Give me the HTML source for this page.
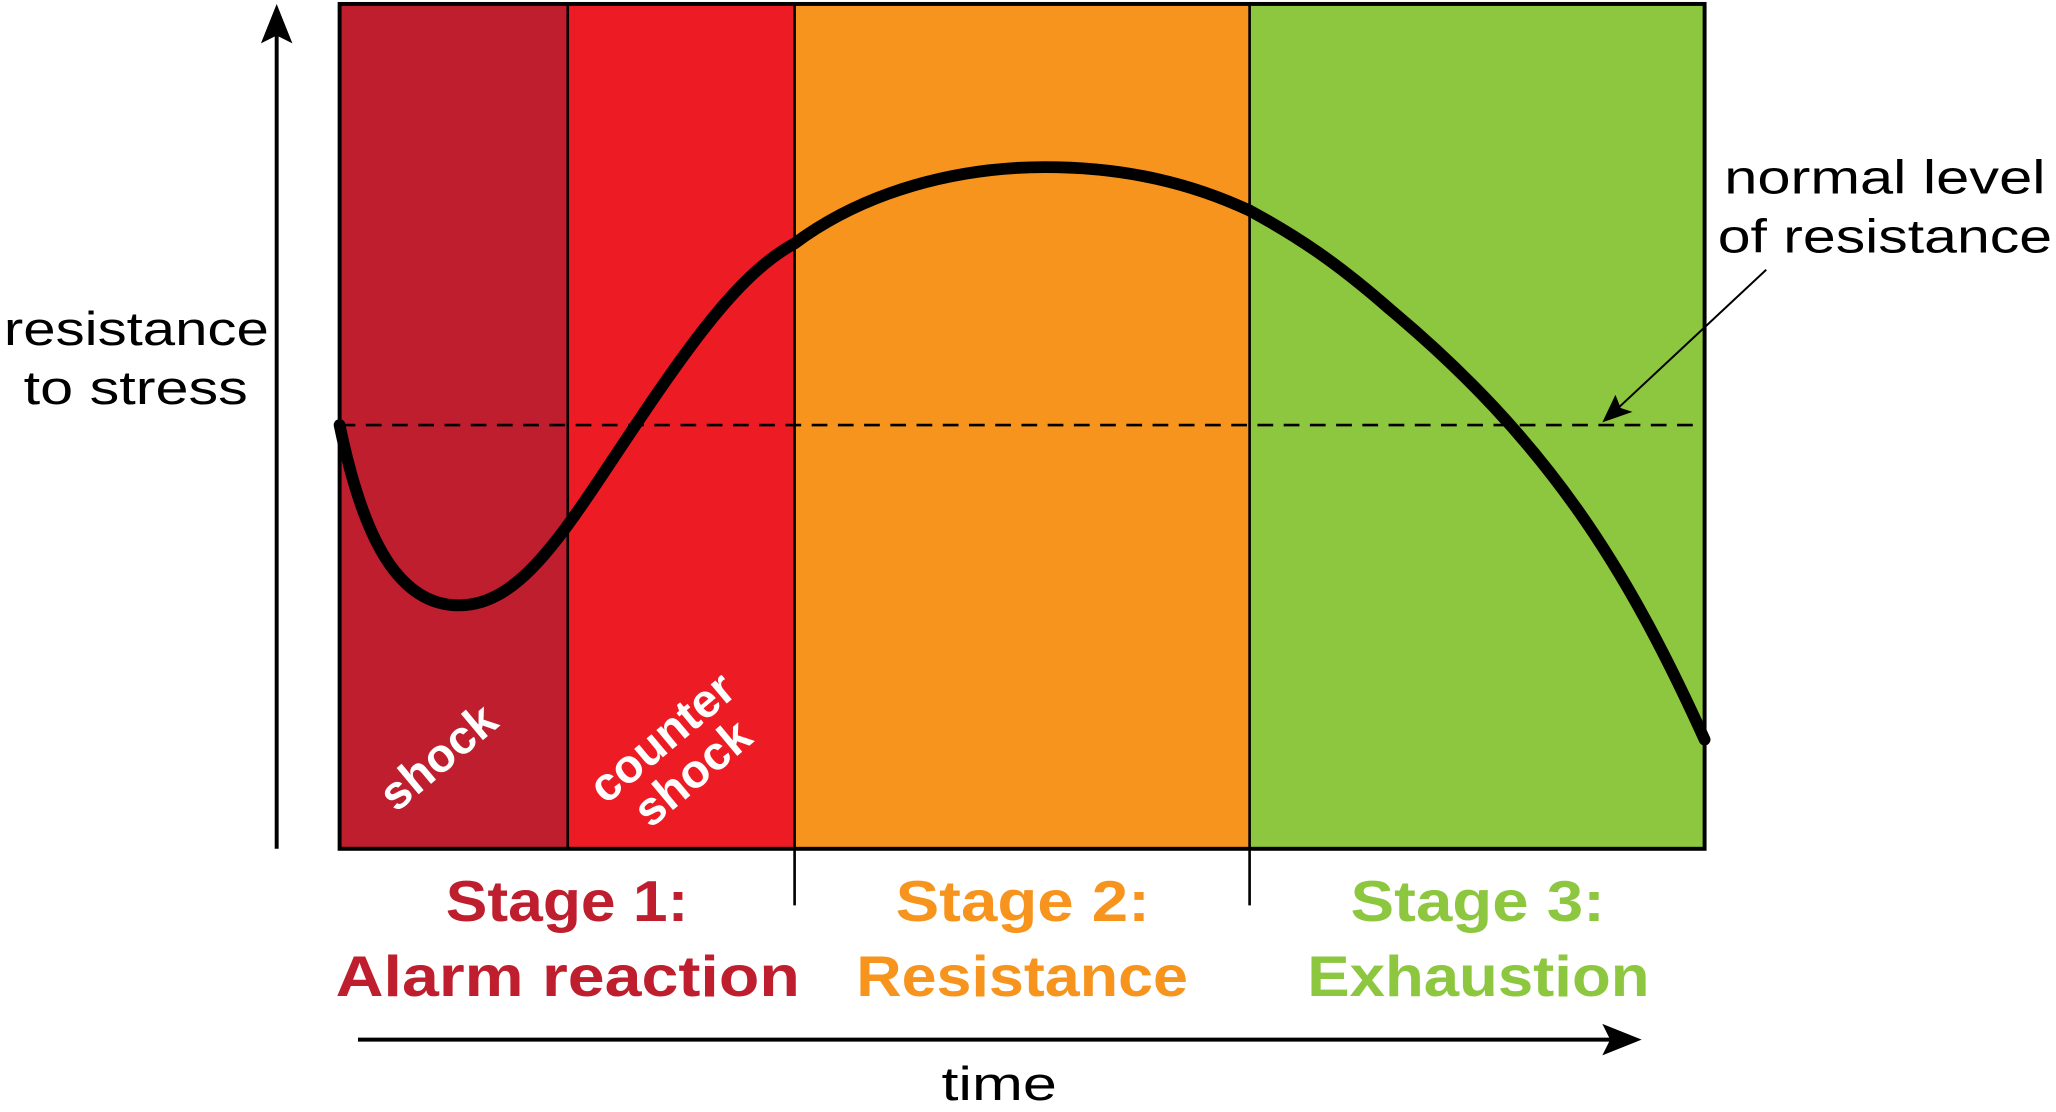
<!DOCTYPE html>
<html><head><meta charset="utf-8"><style>
html,body{margin:0;padding:0;background:#fff;width:2056px;height:1112px;overflow:hidden}
svg{display:block}
text{font-family:"Liberation Sans",sans-serif}
</style></head><body>
<svg width="2056" height="1112" viewBox="0 0 1568 845" preserveAspectRatio="none">
<rect x="259" y="3" width="174" height="642" fill="#be1e2d"/>
<rect x="433" y="3" width="173" height="642" fill="#ed1c24"/>
<rect x="606" y="3" width="347" height="642" fill="#f7941d"/>
<rect x="953" y="3" width="347" height="642" fill="#8dc63f"/>
<rect x="259" y="3" width="1041" height="642" fill="none" stroke="#000" stroke-width="3"/>
<line x1="433" y1="3" x2="433" y2="645" stroke="#000" stroke-width="2"/>
<line x1="606" y1="3" x2="606" y2="688" stroke="#000" stroke-width="2"/>
<line x1="953" y1="3" x2="953" y2="688" stroke="#000" stroke-width="2"/>
<line x1="259" y1="323" x2="1300" y2="323" stroke="#000" stroke-width="2" stroke-dasharray="12,8"/>
<path d="M259,323 C275,400 300,460 350,460 C390,460 420,420 460,360 C520,270 560,210 606,185 C660,145 730,127 797,127 C860,127 910,140 953,160 C990,180 1020,200 1060,235 C1180,335 1240,430 1300,562" fill="none" stroke="#000" stroke-width="9" stroke-linecap="round"/>
<line x1="211" y1="645" x2="211" y2="20" stroke="#000" stroke-width="3"/>
<polygon points="211,3 199,33 211,27 223,33" fill="#000"/>
<line x1="273" y1="790" x2="1230" y2="790" stroke="#000" stroke-width="3"/>
<polygon points="1252,790 1222,778 1228,790 1222,802" fill="#000"/>
<line x1="1347" y1="205" x2="1232" y2="312" stroke="#000" stroke-width="1.5"/>
<polygon points="1222,321 1232,300 1236,310 1245,313" fill="#000"/>
<text x="3" y="262" font-size="36" textLength="202" lengthAdjust="spacingAndGlyphs">resistance</text>
<text x="18" y="307" font-size="36" textLength="171" lengthAdjust="spacingAndGlyphs">to stress</text>
<text x="1315" y="147" font-size="36" textLength="245" lengthAdjust="spacingAndGlyphs">normal level</text>
<text x="1310" y="192" font-size="36" textLength="255" lengthAdjust="spacingAndGlyphs">of resistance</text>
<text x="718" y="836" font-size="36" textLength="88" lengthAdjust="spacingAndGlyphs">time</text>
<text transform="translate(302,618) rotate(-40)" font-size="36" font-weight="bold" fill="#fff">shock</text>
<text transform="translate(462,612) rotate(-40)" font-size="36" font-weight="bold" fill="#fff">counter</text>
<text transform="translate(496,630) rotate(-40)" font-size="36" font-weight="bold" fill="#fff">shock</text>
<g font-size="44" font-weight="bold">
<text x="340" y="700" fill="#be1e2d" textLength="185" lengthAdjust="spacingAndGlyphs">Stage 1:</text>
<text x="256" y="757" fill="#be1e2d" textLength="354" lengthAdjust="spacingAndGlyphs">Alarm reaction</text>
<text x="683" y="700" fill="#f7941d" textLength="194" lengthAdjust="spacingAndGlyphs">Stage 2:</text>
<text x="653" y="757" fill="#f7941d" textLength="253" lengthAdjust="spacingAndGlyphs">Resistance</text>
<text x="1030" y="700" fill="#8dc63f" textLength="194" lengthAdjust="spacingAndGlyphs">Stage 3:</text>
<text x="997" y="757" fill="#8dc63f" textLength="261" lengthAdjust="spacingAndGlyphs">Exhaustion</text>
</g>
</svg>
</body></html>
